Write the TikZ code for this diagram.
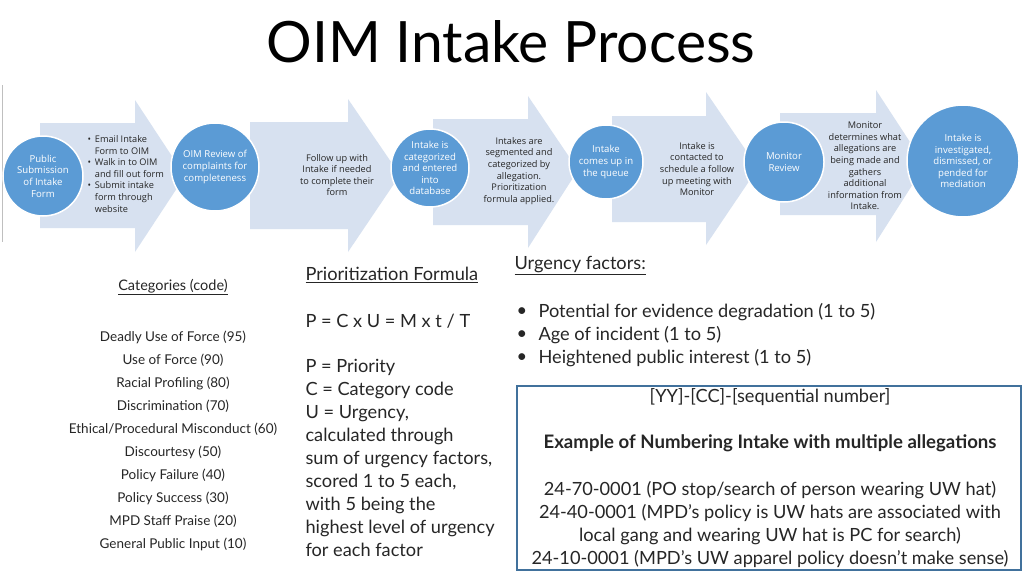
\documentclass[tikz,border=0pt]{standalone}
\usepackage{fontspec}
\setmainfont{Open Sans}
\newfontfamily\lato{Lato}
\definecolor{arr}{HTML}{D7E1F0}
\definecolor{circ}{HTML}{5B9BD5}
\definecolor{boxc}{HTML}{41719C}
\begin{document}
\begin{tikzpicture}[x=1pt,y=-1pt,
  circ/.style={circle,fill=circ,draw=white,line width=1.5pt,minimum size=#1,inner sep=0pt,text=white,align=center,font=\fontsize{9.6}{11.6}\selectfont},
  atext/.style={align=center,font=\fontsize{9.2}{11.6}\selectfont,text=black!85},
  cat/.style={font=\lato\fontsize{13.5}{15}\selectfont,text=black!85},
  mid/.style={font=\lato\fontsize{18.2}{23}\selectfont,anchor=west,text=black!85}]
\useasboundingbox (0,0) rectangle (1024,576);
\fill[white] (0,0) rectangle (1024,576);
\node[font=\lato\fontsize{57}{60}\selectfont] (title) at (511,42) {OIM Intake Process};
\draw[gray!50,line width=0.8pt] (2,85) -- (2,242);
% arrows
\fill[arr] (40,123)--(135,123)--(135,100)--(185,176)--(135,252)--(135,228)--(40,228)--cycle;
\fill[arr] (250,122)--(348,122)--(348,99)--(400,175)--(348,252)--(348,229)--(250,229)--cycle;
\fill[arr] (433,119)--(528,119)--(528,96)--(578,170)--(528,248)--(528,225)--(433,225)--cycle;
\fill[arr] (612,116)--(706,116)--(706,92)--(758,168)--(706,245)--(706,222)--(612,222)--cycle;
\fill[arr] (780,113)--(876,113)--(876,90)--(925,165)--(876,242)--(876,215)--(780,215)--cycle;
% circles
\node[circ=80pt] (c1) at (43,176) {Public\\Submission\\of Intake\\Form};
\node[circ=88pt] (c2) at (215,167) {OIM Review of\\complaints for\\completeness};
\node[circ=78pt] (c3) at (430,168) {Intake is\\categorized\\and entered\\into\\database};
\node[circ=74pt] (c4) at (606,162) {Intake\\comes up in\\the queue};
\node[circ=80pt] (c5) at (784,162) {Monitor\\Review};
\node[circ=112pt] (c6) at (963,161) {Intake is\\investigated,\\dismissed, or\\pended for\\mediation};
% arrow texts
\node[atext,align=left,anchor=north west] (t1) at (84,132) {\textbullet\ \,Email Intake\\\phantom{\textbullet\ \,}Form to OIM\\\textbullet\ \,Walk in to OIM\\\phantom{\textbullet\ \,}and fill out form\\\textbullet\ \,Submit intake\\\phantom{\textbullet\ \,}form through\\\phantom{\textbullet\ \,}website};
\node[atext] (t2) at (337,175) {Follow up with\\Intake if needed\\to complete their\\form};
\node[atext] (t3) at (519,171) {Intakes are\\segmented and\\categorized by\\allegation.\\Prioritization\\formula applied.};
\node[atext] (t4) at (697,169) {Intake is\\contacted to\\schedule a follow\\up meeting with\\Monitor};
\node[atext] (t5) at (865,166) {Monitor\\determines what\\allegations are\\being made and\\gathers\\additional\\information from\\Intake.};
% categories
\node[cat,font=\lato\fontsize{14.5}{16}\selectfont] (cath) at (173,287) {\underline{Categories (code)}};
\foreach \t [count=\i] in {Deadly Use of Force (95),Use of Force (90),Racial Profiling (80),Discrimination (70),Ethical/Procedural Misconduct (60),Discourtesy (50),Policy Failure (40),Policy Success (30),MPD Staff Praise (20),General Public Input (10)}
  \node[cat] (cat\i) at (173,{337+23*(\i-1)}) {\t};
% formula
\node[mid] (fh) at (302,275) {\underline{Prioritization Formula}};
\node[mid] (f1) at (302,321) {P = C x U = M x t / T};
\node[mid,anchor=north west,align=left] (f2) at (302,356) {P = Priority\\C = Category code\\U = Urgency,\\calculated through\\sum of urgency factors,\\scored 1 to 5 each,\\with 5 being the\\highest level of urgency\\for each factor};
% urgency
\node[mid] (uh) at (511,266) {\underline{Urgency factors:}};
\foreach \t [count=\i] in {Potential for evidence degradation (1 to 5),Age of incident (1 to 5),Heightened public interest (1 to 5)}{
  \node[mid] (ub\i) at (513,{312+23*(\i-1)}) {\textbullet};
  \node[mid] (u\i) at (535,{312+23*(\i-1)}) {\t};}
% box
\draw[boxc,line width=1.2pt] (517,386) rectangle (1021,570);
\node[mid,anchor=center] (b1) at (770,397) {[YY]-[CC]-[sequential number]};
\node[mid,anchor=center,font=\lato\bfseries\fontsize{18.6}{23}\selectfont] (b2) at (770,443) {Example of Numbering Intake with multiple allegations};
\node[mid,anchor=center,align=center] (b3) at (770,524) {24-70-0001 (PO stop/search of person wearing UW hat)\\24-40-0001 (MPD’s policy is UW hats are associated with\\local gang and wearing UW hat is PC for search)\\24-10-0001 (MPD’s UW apparel policy doesn’t make sense)};
\end{tikzpicture}
\end{document}
